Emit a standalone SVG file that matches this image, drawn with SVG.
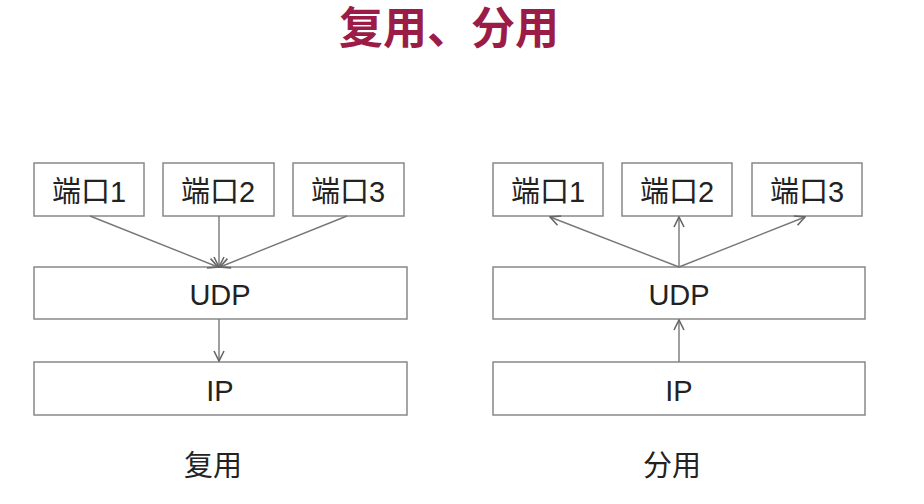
<svg xmlns="http://www.w3.org/2000/svg" width="924" height="504" viewBox="0 0 924 504">
<defs>
<marker id="arr" viewBox="0 0 12 12" refX="11" refY="6" markerWidth="12" markerHeight="12" markerUnits="userSpaceOnUse" orient="auto">
<path d="M1,1 L11,6 L1,11" fill="none" stroke="#666" stroke-width="1.6"/>
</marker>
<style>
.box{fill:#fff;stroke:#888;stroke-width:1.5}
.t{font-family:"Liberation Sans","Noto Sans CJK SC",sans-serif;font-size:29px;fill:#222;text-anchor:middle}
.c{stroke:#777;stroke-width:1.4;fill:none;marker-end:url(#arr)}
</style>
</defs>
<rect width="924" height="504" fill="#fff"/>
<text x="449" y="44" font-family="'Noto Sans CJK SC',sans-serif" font-size="44" font-weight="bold" fill="#9b1c47" text-anchor="middle">复用、分用</text>
<g id="L-p1"><rect class="box" x="34" y="163" width="110" height="53"/><text class="t" x="89" y="202">端口1</text></g>
<g id="L-p2"><rect class="box" x="163" y="163" width="111" height="53"/><text class="t" x="218" y="202">端口2</text></g>
<g id="L-p3"><rect class="box" x="293" y="163" width="111" height="53"/><text class="t" x="348" y="202">端口3</text></g>
<g id="L-udp"><rect class="box" x="34" y="267" width="373" height="52"/><text class="t" x="220" y="305">UDP</text></g>
<g id="L-ip"><rect class="box" x="34" y="362" width="373" height="53"/><text class="t" x="220" y="401">IP</text></g>
<g id="L-label"><text class="t" x="213" y="476">复用</text></g>
<g id="R-p1"><rect class="box" x="493" y="163" width="110" height="53"/><text class="t" x="548" y="202">端口1</text></g>
<g id="R-p2"><rect class="box" x="622" y="163" width="110" height="53"/><text class="t" x="677" y="202">端口2</text></g>
<g id="R-p3"><rect class="box" x="752" y="163" width="110" height="53"/><text class="t" x="807" y="202">端口3</text></g>
<g id="R-udp"><rect class="box" x="493" y="267" width="372" height="52"/><text class="t" x="679" y="305">UDP</text></g>
<g id="R-ip"><rect class="box" x="493" y="362" width="372" height="53"/><text class="t" x="679" y="401">IP</text></g>
<g id="R-label"><text class="t" x="672" y="476">分用</text></g>
<g id="connectors">
<line class="c" x1="90" y1="216" x2="218" y2="267"/>
<line class="c" x1="219" y1="216" x2="219" y2="267"/>
<line class="c" x1="347" y1="216" x2="220" y2="267"/>
<line class="c" x1="219" y1="319" x2="219" y2="361"/>
<line class="c" x1="679" y1="267" x2="550" y2="217"/>
<line class="c" x1="679" y1="267" x2="679" y2="217"/>
<line class="c" x1="679" y1="267" x2="805" y2="217"/>
<line class="c" x1="679" y1="362" x2="679" y2="320"/>
</g>
</svg>
